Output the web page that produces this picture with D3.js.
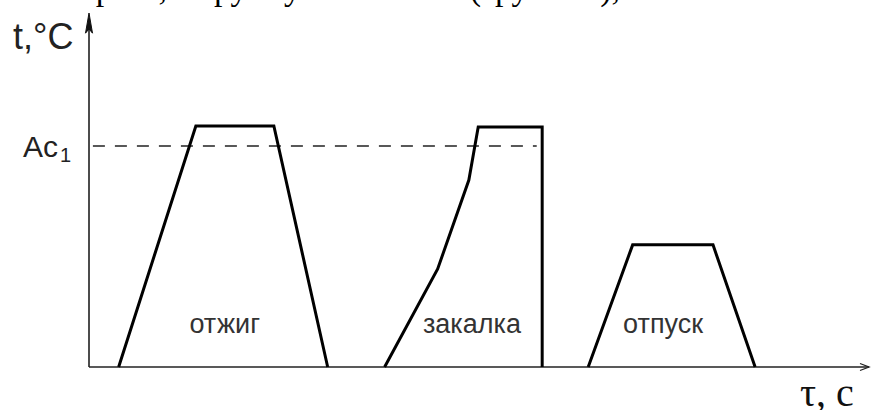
<!DOCTYPE html>
<html>
<head>
<meta charset="utf-8">
<script src="https://cdn.jsdelivr.net/npm/d3@7"></script>
<style>
    body { margin: 0; background: #fff; }
    svg { display: block; }
</style>
</head>
<body>
<div id="heat-chart"></div>
<script>
// time in arbitrary units (0..100), temperature in arbitrary units (0..100)
var annealTime = [3.8, 13.7, 23.7, 30.6];
var annealTemp = [0, 68.1, 68.1, 0];
var quenchTime = [37.9, 44.7, 48.7, 49.9, 58.1, 58.1];
var quenchTemp = [0, 27.7, 52.8, 67.8, 67.8, 0];
var temperTime = [64.0, 69.7, 80.0, 85.4];
var temperTemp = [0, 34.5, 34.5, 0];

var ac1Temp = 62.4;
var ac1Span = [0.5, 57.4];

var processNames = ["отжиг", "закалка", "отпуск"];
var labelTime = [17.4, 49.1, 73.6];
var labelTemp = 9.6;

function HeatChart() {
    var self = this;
    self.init();
}

HeatChart.prototype.init = function() {
    var self = this;
    self.width = 873;
    self.height = 410;

    self.svg = d3.select("#heat-chart").append("svg")
        .attr("width", self.width)
        .attr("height", self.height);

    self.x = d3.scaleLinear().domain([0, 100]).range([89, 869]);
    self.y = d3.scaleLinear().domain([0, 100]).range([367, 13]);
};

HeatChart.prototype.draw = function() {
    var self = this;
    var x = self.x, y = self.y;
    var svg = self.svg;

    // cut off line of the page text above the figure (only descenders show)
    var top = svg.append("g")
        .style("font-family", "'Liberation Serif', 'Times New Roman', serif")
        .style("font-size", "34px")
        .attr("fill", "#000");
    top.append("text").attr("x", 167).attr("y", 0).attr("text-anchor", "end").text("нагрева,");
    top.append("text").attr("x", 200).attr("y", 0).text("группу");
    top.append("text").attr("x", 620).attr("y", 0).attr("text-anchor", "end").text("(группой),");

    // axes
    svg.append("line")
        .attr("x1", x(0)).attr("y1", y(0))
        .attr("x2", x(0)).attr("y2", y(97))
        .attr("stroke", "#111").attr("stroke-width", 1.5);
    svg.append("path")
        .attr("d", "M" + x(0) + "," + y(100) +
            "L" + (x(0) + 3.5) + "," + y(94.3) +
            "L" + x(0) + "," + y(95.5) +
            "L" + (x(0) - 3.5) + "," + y(94.3) + "Z")
        .attr("fill", "#111").attr("stroke", "#111").attr("stroke-width", 1);

    svg.append("line")
        .attr("x1", x(0)).attr("y1", y(0))
        .attr("x2", x(100)).attr("y2", y(0))
        .attr("stroke", "#222").attr("stroke-width", 1.6);
    svg.append("path")
        .attr("d", "M" + (x(100) - 9) + "," + (y(0) - 3.5) +
            "L" + x(100) + "," + y(0) +
            "L" + (x(100) - 9) + "," + (y(0) + 3.5))
        .attr("fill", "none").attr("stroke", "#222").attr("stroke-width", 1.3);

    // Ac1 dashed level
    svg.append("line")
        .attr("x1", x(ac1Span[0])).attr("y1", y(ac1Temp))
        .attr("x2", x(ac1Span[1])).attr("y2", y(ac1Temp))
        .attr("stroke", "#222").attr("stroke-width", 1.5)
        .attr("stroke-dasharray", "12,10");

    // process curves
    var line = d3.line()
        .x(function(d) { return x(d[0]); })
        .y(function(d) { return y(d[1]); });

    var curves = [
        d3.zip(annealTime, annealTemp),
        d3.zip(quenchTime, quenchTemp),
        d3.zip(temperTime, temperTemp)
    ];

    svg.selectAll("path.curve")
        .data(curves)
        .enter().append("path")
        .attr("class", "curve")
        .attr("d", line)
        .attr("fill", "none")
        .attr("stroke", "#000")
        .attr("stroke-width", 3)
        .attr("stroke-linejoin", "miter");

    // process labels
    svg.selectAll("text.proc")
        .data(processNames)
        .enter().append("text")
        .attr("class", "proc")
        .attr("x", function(d, i) { return x(labelTime[i]); })
        .attr("y", y(labelTemp))
        .attr("text-anchor", "middle")
        .style("font-family", "'Liberation Sans', Arial, sans-serif")
        .style("font-size", "27px")
        .attr("fill", "#333")
        .text(function(d) { return d; });

    // axis titles
    var sans = "'Liberation Sans', Arial, sans-serif";
    svg.append("text")
        .attr("x", 13).attr("y", 49)
        .style("font-family", sans).style("font-size", "36px")
        .attr("fill", "#222")
        .text("t,°C");

    var ac = svg.append("text")
        .attr("x", 23).attr("y", 157)
        .style("font-family", sans).style("font-size", "30px")
        .attr("fill", "#222");
    ac.append("tspan").text("Ac");
    ac.append("tspan").attr("dx", 2).attr("dy", 5)
        .style("font-size", "20px").text("1");

    svg.append("text")
        .attr("x", 800).attr("y", 406)
        .style("font-family", "'Liberation Serif', 'Times New Roman', serif")
        .style("font-size", "40px")
        .attr("fill", "#111")
        .text("τ, с");
};

var chart = new HeatChart();
chart.draw();
</script>
</body>
</html>
